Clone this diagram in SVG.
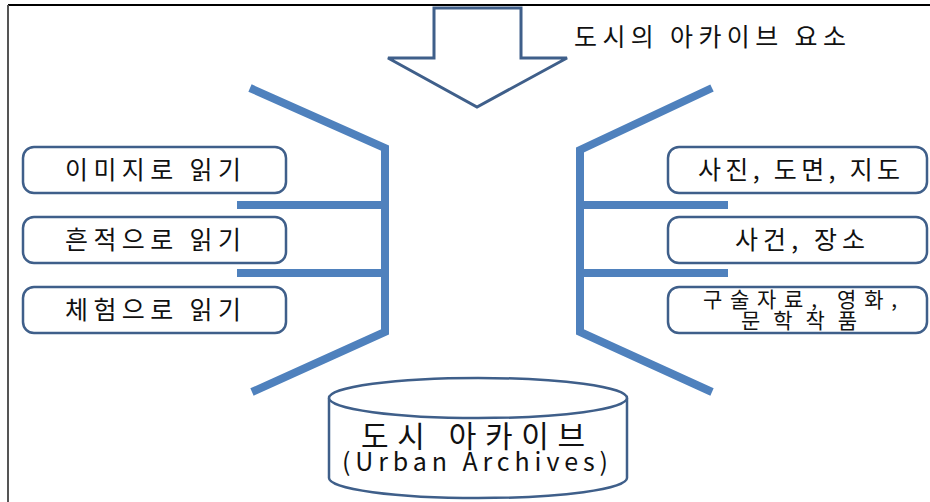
<svg xmlns="http://www.w3.org/2000/svg" width="930" height="502" viewBox="0 0 930 502">
  <style>
    .frame { stroke: #555; stroke-width: 2; fill: none; }
    .beam { stroke: #4F81BD; stroke-width: 8; fill: none; stroke-linecap: butt; stroke-linejoin: miter; }
    .box { fill: #fff; stroke: #3F5F8A; stroke-width: 2.5; }
    .label { font-family: "Noto Sans CJK KR", "Noto Sans", sans-serif; font-size: 25px; fill: #111; text-anchor: middle; }
    .small { font-size: 21px; }
  </style>
  <rect width="930" height="502" fill="#fff"/>
  <!-- outer frame (top and left edges) -->
  <line class="frame" x1="8" y1="5" x2="930" y2="5" style="stroke:#000"/>
  <line class="frame" x1="8" y1="5" x2="8" y2="502"/>

  <!-- incoming arrow -->
  <g id="arrow">
    <polygon points="434,8 521,8 521,58 567,58 477,107 388,58 434,58" fill="#fff" stroke="#3F5F8A" stroke-width="3" stroke-linejoin="miter"/>
    <text x="710" y="46" class="label" textLength="272" lengthAdjust="spacing">도시의 아카이브 요소</text>
  </g>

  <!-- funnel connectors -->
  <g id="connectors">
    <polyline class="beam" points="250,88 385,148 385,332 252,392"/>
    <line class="beam" x1="237" y1="205" x2="385" y2="205"/>
    <line class="beam" x1="237" y1="273" x2="385" y2="273"/>
    <polyline class="beam" points="712,88 580,150 580,332 712,392"/>
    <line class="beam" x1="580" y1="205" x2="728" y2="205"/>
    <line class="beam" x1="580" y1="273" x2="728" y2="273"/>
  </g>

  <!-- reading modes -->
  <g id="read-image">
    <rect class="box" x="23" y="147" width="263" height="46" rx="11"/>
    <text class="label" x="153" y="179" textLength="176" lengthAdjust="spacing">이미지로 읽기</text>
  </g>
  <g id="read-trace">
    <rect class="box" x="23" y="217" width="263" height="46" rx="11"/>
    <text class="label" x="153" y="249" textLength="176" lengthAdjust="spacing">흔적으로 읽기</text>
  </g>
  <g id="read-experience">
    <rect class="box" x="23" y="287" width="263" height="46" rx="11"/>
    <text class="label" x="153" y="319" textLength="176" lengthAdjust="spacing">체험으로 읽기</text>
  </g>

  <!-- archive material -->
  <g id="photos-maps">
    <rect class="box" x="668" y="147" width="259" height="46" rx="11"/>
    <text class="label" x="799" y="179" textLength="202" lengthAdjust="spacing">사진, 도면, 지도</text>
  </g>
  <g id="events-places">
    <rect class="box" x="668" y="217" width="259" height="46" rx="11"/>
    <text class="label" x="800" y="249" textLength="130" lengthAdjust="spacing">사건, 장소</text>
  </g>
  <g id="oral-film-literature">
    <rect class="box" x="668" y="287" width="259" height="46" rx="11"/>
    <text class="label small"><tspan x="800" y="307" textLength="194" lengthAdjust="spacing">구술자료, 영화,</tspan><tspan x="799" y="328" textLength="116" lengthAdjust="spacing">문학작품</tspan></text>
  </g>

  <!-- archive store -->
  <g id="urban-archives">
    <path class="box" d="M329,398 L329,478 A149,20 0 0 0 627,478 L627,398"/>
    <ellipse class="box" cx="478" cy="398" rx="149" ry="20"/>
    <text class="label" style="font-size:30px"><tspan x="473" y="447" textLength="224" lengthAdjust="spacing">도시 아카이브</tspan><tspan x="475" y="471" style="font-size:25px" textLength="266" lengthAdjust="spacing">(Urban Archives)</tspan></text>
  </g>
</svg>
